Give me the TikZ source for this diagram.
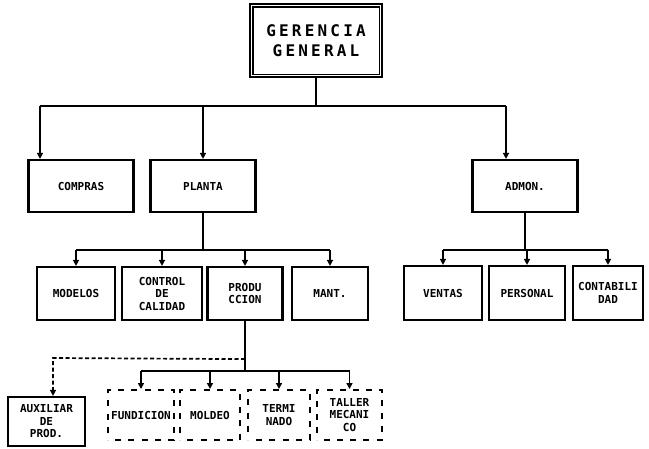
\documentclass[tikz,border=0pt]{standalone}
\usepackage{fontspec}
\newfontfamily\lblfont{DejaVu Sans Mono}
\newfontfamily\topfont{DejaVu Sans Mono}[LetterSpace=20]
\usetikzlibrary{arrows.meta,decorations}
\begin{document}
\begin{tikzpicture}[x=1pt,y=-1pt,
  box/.style={draw, line width=2.2pt, rectangle, inner sep=0pt, align=center,
    font=\lblfont\bfseries\fontsize{11}{12.5}\selectfont},
  dbox/.style={box, line width=2pt, dash pattern=on 6pt off 7pt, dash expand off},
  conn/.style={line width=1.7pt},
  arr/.style={conn, -{Triangle[length=6pt,width=6pt]}},
  darr/.style={arr, dash pattern=on 4pt off 2.5pt}]
\useasboundingbox (0,0) rectangle (649,448);

% top
\node[draw, line width=2.2pt, minimum width=132pt, minimum height=73pt, inner sep=0pt, align=center,
  font=\topfont\bfseries\fontsize{16}{20}\selectfont] (ger) at (316,40.5) {GERENCIA\\GENERAL};
\draw[line width=1.2pt] ([shift={(4,4)}]ger.north west) rectangle ([shift={(-4,-4)}]ger.south east);

% level 1
\node[box, minimum width=105pt, minimum height=52pt] (comp) at (81,186) {COMPRAS};
\node[box, minimum width=105pt, minimum height=52pt] (pla) at (203,186) {PLANTA};
\node[box, minimum width=105pt, minimum height=52pt] (adm) at (525,186) {ADMON.};

% level 2
\node[box, minimum width=78pt, minimum height=53pt] (mod) at (76,293.5) {MODELOS};
\node[box, minimum width=80pt, minimum height=53pt] (ctl) at (162,293.5) {CONTROL\\DE\\CALIDAD};
\node[box, minimum width=75pt, minimum height=53pt] (pro) at (245,293.5) {PRODU\\CCION};
\node[box, minimum width=76pt, minimum height=53pt] (man) at (330,293.5) {MANT.};
\node[box, minimum width=78pt, minimum height=54pt] (ven) at (443,293) {VENTAS};
\node[box, minimum width=76pt, minimum height=54pt] (per) at (527,293) {PERSONAL};
\node[box, minimum width=70pt, minimum height=54pt] (con) at (608,293) {CONTABILI\\DAD};

% level 3
\node[box, minimum width=77pt, minimum height=49pt] (aux) at (46.5,421.5) {AUXILIAR\\DE\\PROD.};
\node[dbox, minimum width=66pt, minimum height=50pt] (fun) at (141,415) {FUNDICION};
\node[dbox, minimum width=60pt, minimum height=50pt] (mol) at (210,415) {MOLDEO};
\node[dbox, minimum width=62pt, minimum height=50pt] (ter) at (279,415) {TERMI\\NADO};
\node[dbox, minimum width=65pt, minimum height=50pt] (tal) at (349.5,415) {TALLER\\MECANI\\CO};

% connectors from top
\coordinate (b1) at (40,106);
\coordinate (b3) at (506,106);
\draw[conn] (ger.south) -- (ger.south |- b1);
\draw[conn] (b1) -- (b3);
\draw[arr] (b1) -- (b1 |- comp.north);
\draw[arr] (pla.north |- b1) -- (pla.north);
\draw[arr] (b3) -- (b3 |- adm.north);

% planta
\draw[conn] (pla.south) -- ++(0,37) coordinate (p2);
\draw[conn] (mod.north |- p2) -- (man.north |- p2);
\foreach \n in {mod,ctl,pro,man} \draw[arr] (\n.north |- p2) -- (\n.north);

% admon
\draw[conn] (adm.south) -- ++(0,37) coordinate (a2);
\draw[conn] (ven.north |- a2) -- (con.north |- a2);
\foreach \n in {ven,per,con} \draw[arr] (\n.north |- a2) -- (\n.north);

% produccion
\draw[conn] (pro.south) -- ++(0,50) coordinate (p3);
\path (pro.south) ++(0,38) coordinate (pd);
\coordinate (ax) at (53,358);
\draw[darr] (pd) -- (ax) -- (ax |- aux.north);
\draw[conn] (fun.north |- p3) -- (tal.north |- p3);
\foreach \n in {fun,mol,ter,tal} \draw[arr] (\n.north |- p3) -- (\n.north);
\end{tikzpicture}
\end{document}
